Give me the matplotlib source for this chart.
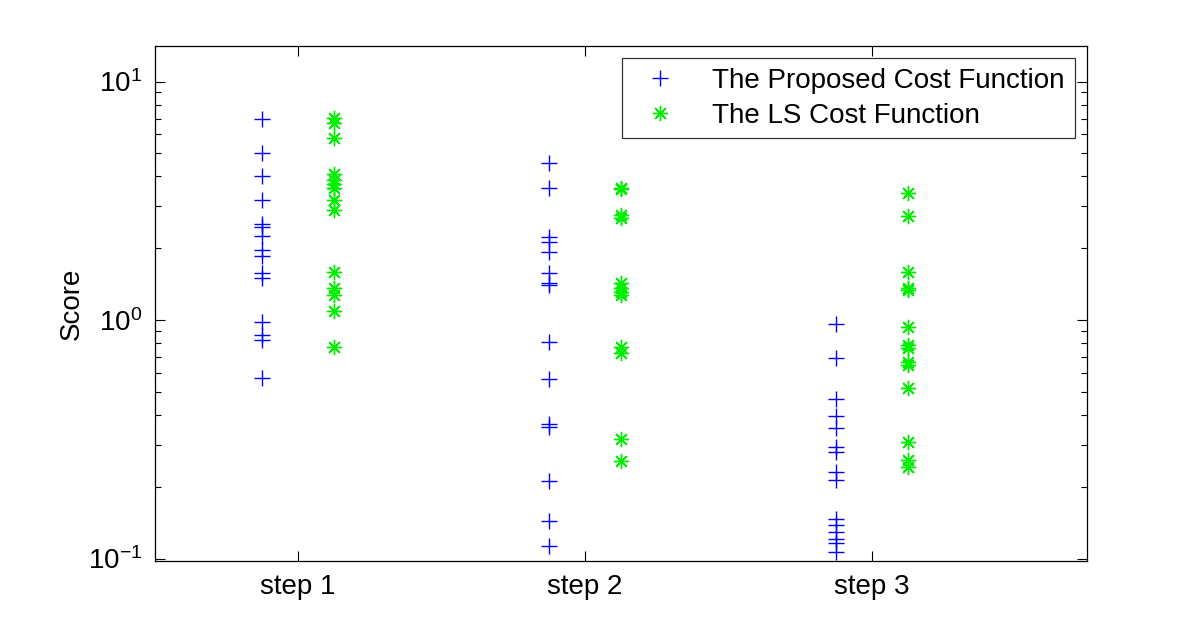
import numpy as np
import matplotlib
matplotlib.use("Agg")
import matplotlib.pyplot as plt

plt.rcParams['font.family'] = ['Liberation Sans', 'DejaVu Sans']
plt.rcParams['mathtext.fontset'] = 'custom'
plt.rcParams['mathtext.rm'] = 'Liberation Sans'
plt.rcParams['mathtext.it'] = 'Liberation Sans:italic'

steps = ["step 1", "step 2", "step 3"]

# scores
proposed = [
    [6.94, 5.0, 4.02, 3.19, 2.53, 2.45, 2.25, 1.97, 1.85, 1.57, 1.50, 0.984, 0.865, 0.824, 0.57],
    [4.57, 3.59, 2.23, 2.12, 1.92, 1.58, 1.43, 1.40, 0.811, 0.564, 0.367, 0.355, 0.212, 0.144, 0.113],
    [0.962, 0.691, 0.465, 0.396, 0.352, 0.293, 0.280, 0.231, 0.213, 0.146, 0.138, 0.129, 0.121, 0.116, 0.107],
]
ls_cost = [
    [7.01, 6.70, 5.78, 4.09, 3.86, 3.72, 3.58, 3.19, 2.89, 1.59, 1.36, 1.27, 1.09, 0.773],
    [3.59, 3.55, 2.75, 2.68, 1.43, 1.36, 1.31, 1.27, 0.773, 0.725, 0.317, 0.256],
    [3.42, 2.74, 1.59, 1.36, 1.34, 0.937, 0.786, 0.761, 0.669, 0.648, 0.517, 0.309, 0.259, 0.243],
]

fig = plt.figure(figsize=(12, 6.34), dpi=100)
ax = fig.add_axes([0.129, 0.115, 0.777, 0.8125])

star = (8, 2, 0)
for i in range(len(steps)):
    xb = np.full(len(proposed[i]), i + 1 - 0.125)
    xg = np.full(len(ls_cost[i]), i + 1 + 0.125)
    ax.plot(xb, proposed[i], linestyle='none', marker='+', color='#0000ff',
            markersize=12, markeredgewidth=1.0,
            label="The Proposed Cost Function" if i == 0 else None)
    ax.plot(xg, ls_cost[i], linestyle='none', marker=star, color='#00ee00',
            markersize=11, markeredgewidth=1.0,
            label="The LS Cost Function" if i == 0 else None)

ax.set_yscale('log')
ax.set_ylim(0.0976, 14.1)
ax.set_xlim(0.5, 3.75)
ax.set_xticks([1, 2, 3])
ax.set_xticklabels(steps)
ax.set_ylabel("Score", fontsize=20, labelpad=2)

ax.tick_params(which='both', direction='in', top=True, right=True, labelsize=20, pad=9)
ax.tick_params(which='major', length=7, width=0.8)
ax.tick_params(which='minor', length=4, width=0.8)
ax.tick_params(axis='x', which='minor', bottom=False, top=False)
for s in ax.spines.values():
    s.set_linewidth(0.9)

leg = ax.legend(loc='upper right', fontsize=20, frameon=True, fancybox=False,
                edgecolor='black', borderaxespad=0.45, handletextpad=0.9,
                borderpad=0.35, labelspacing=0.3)
leg.get_frame().set_linewidth(0.9)

fig.savefig("out.png", dpi=100, facecolor='white')
